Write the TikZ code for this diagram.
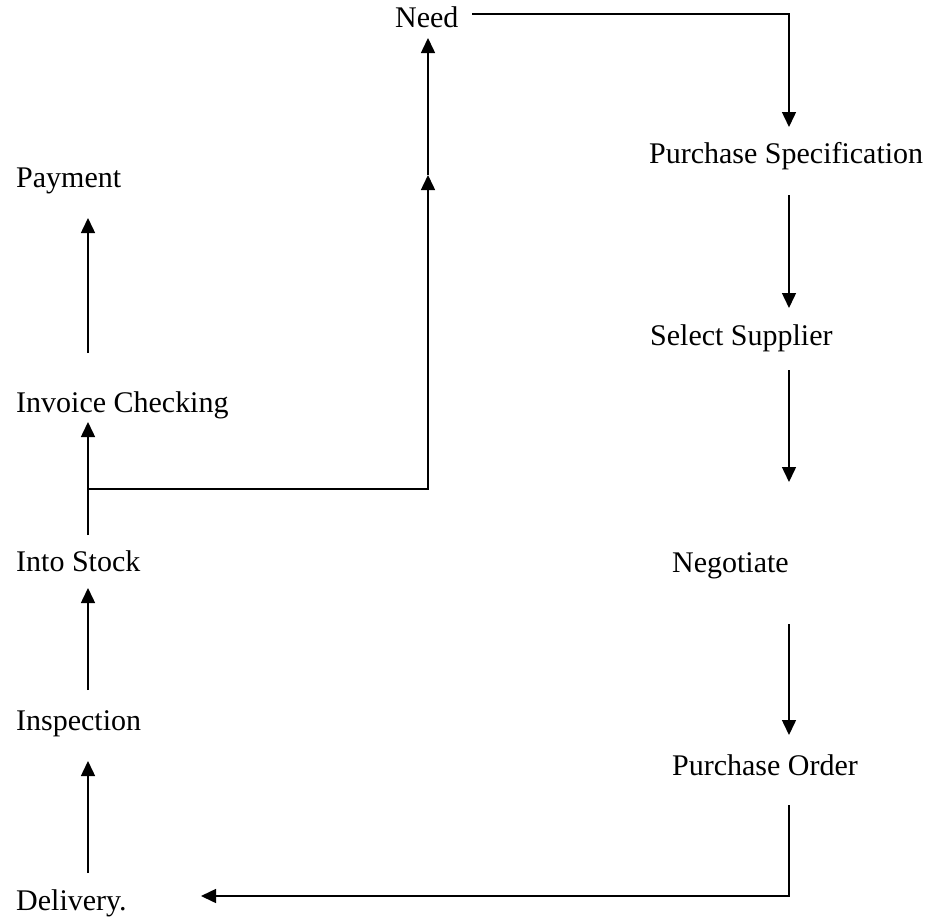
\documentclass[tikz,border=0pt]{standalone}
\usepackage{fontspec}
\setmainfont{Liberation Serif}
\usetikzlibrary{arrows.meta}
\begin{document}
\begin{tikzpicture}[x=1bp,y=-1bp,
  lbl/.style={anchor=base west,inner sep=0pt,font=\fontsize{30.1}{36}\selectfont},
  conn/.style={line width=1.5bp},
  arr/.style={conn,-{Triangle[length=15bp,width=14bp]}}]
\useasboundingbox (0,0) rectangle (928,918);
% nodes
\node[lbl] (need) at (395,27) {Need};
\node[lbl] (spec) at (649,163) {Purchase Specification};
\node[lbl] (sup)  at (650,345) {Select Supplier};
\node[lbl] (neg)  at (672,572) {Negotiate};
\node[lbl] (po)   at (672,775) {Purchase Order};
\node[lbl] (del)  at (16,910) {Delivery.};
\node[lbl] (insp) at (16,730) {Inspection};
\node[lbl] (stock) at (16,571) {Into Stock};
\node[lbl] (inv)  at (16,412) {Invoice Checking};
\node[lbl] (pay)  at (16,187) {Payment};
% connector end points
\coordinate (needR) at (472,14);
\coordinate (specT) at (789,127);
\coordinate (specB) at (789,195);
\coordinate (supT) at (789,308);
\coordinate (supB) at (789,370);
\coordinate (negT) at (789,482);
\coordinate (negB) at (789,624);
\coordinate (poT) at (789,735);
\coordinate (poB) at (789,805);
\coordinate (delR) at (201,896);
\coordinate (delT) at (88,873);
\coordinate (inspB) at (88,761);
\coordinate (inspT) at (88,690);
\coordinate (stockB) at (88,588);
\coordinate (stockT) at (88,535);
\coordinate (invB) at (88,422);
\coordinate (junc) at (88,489);
\coordinate (mid) at (428,175);
\coordinate (needB) at (428,38);
\coordinate (invT) at (88,353);
\coordinate (payB) at (88,218);
% connectors
\draw[arr] (needR) -| (specT);
\draw[arr] (specB) -- (supT);
\draw[arr] (supB) -- (negT);
\draw[arr] (negB) -- (poT);
\draw[arr] (poB) |- (delR);
\draw[arr] (delT) -- (inspB);
\draw[arr] (inspT) -- (stockB);
\draw[arr] (stockT) -- (invB);
\draw[arr] (junc) -| (mid);
\draw[arr] (mid) -- (needB);
\draw[arr] (invT) -- (payB);
\end{tikzpicture}
\end{document}
